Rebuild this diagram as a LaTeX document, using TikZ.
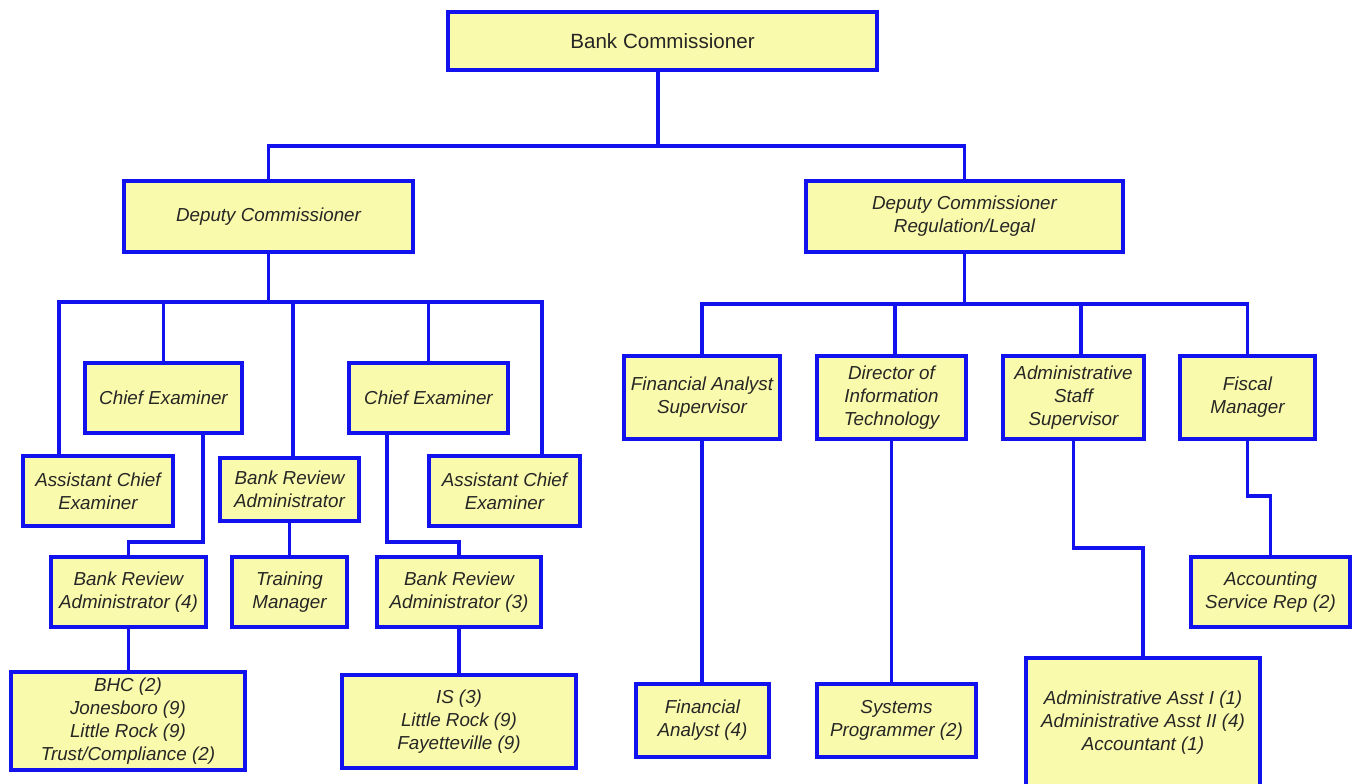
\documentclass[tikz,border=0pt]{standalone}
\usepackage{fontspec}
\setmainfont{Liberation Sans}
\definecolor{lineblue}{RGB}{18,18,238}
\definecolor{boxfill}{RGB}{250,250,172}
\tikzset{
  box/.style={draw=lineblue, line width=2pt, fill=boxfill, inner sep=0pt, outer sep=0pt, align=center,
    font=\fontsize{9.4}{11.5}\selectfont\itshape, text=black!85},
  conn/.style={draw=lineblue, line width=1.9pt, line join=miter, line cap=butt}
}
\newcommand{\obox}[7][]{%
  \node[box,#1,minimum width={(#5-#3-4)*0.5pt},minimum height={(#6-#4-4)*0.5pt}]
    (#2) at ({(#3+#5)/2},{(#4+#6)/2}) {#7};}
\begin{document}
\begin{tikzpicture}[x=0.5pt,y=-0.5pt]
\useasboundingbox[fill=white] (0,0) rectangle (1354,783);
% boxes
\obox[font=\fontsize{10.3}{12}\selectfont]{bc}{446}{10}{879}{72}{Bank Commissioner}
\obox{dc}{122}{179}{415}{254}{Deputy Commissioner}
\obox{dcr}{804}{179}{1125}{254}{Deputy Commissioner\\Regulation/Legal}
\obox{ce1}{83}{361}{244}{435}{Chief Examiner}
\obox{ce2}{347}{361}{510}{435}{Chief Examiner}
\obox{ace1}{21}{454}{175}{528}{Assistant Chief\\Examiner}
\obox{bram}{218}{456}{361}{523}{Bank Review\\Administrator}
\obox{ace2}{427}{454}{582}{528}{Assistant Chief\\Examiner}
\obox{bra4}{49}{555}{208}{629}{Bank Review\\Administrator (4)}
\obox{tm}{230}{555}{349}{629}{Training\\Manager}
\obox{bra3}{375}{555}{543}{629}{Bank Review\\Administrator (3)}
\obox{bhc}{9}{670}{247}{772}{BHC (2)\\Jonesboro (9)\\Little Rock (9)\\Trust/Compliance (2)}
\obox{is}{340}{673}{578}{770}{IS (3)\\Little Rock (9)\\Fayetteville (9)}
\obox{fas}{622}{354}{782}{441}{Financial Analyst\\Supervisor}
\obox{dit}{815}{354}{968}{441}{Director of\\Information\\Technology}
\obox{ass}{1001}{354}{1146}{441}{Administrative\\Staff\\Supervisor}
\obox{fm}{1178}{354}{1317}{441}{Fiscal\\Manager}
\obox{fa}{634}{682}{771}{759}{Financial\\Analyst (4)}
\obox{sp}{815}{682}{978}{759}{Systems\\Programmer (2)}
\obox{adm}{1024}{656}{1262}{790}{Administrative Asst I (1)\\Administrative Asst II (4)\\Accountant (1)}
\obox{asr}{1189}{555}{1352}{629}{Accounting\\Service Rep (2)}
% connectors: top level
\draw[conn] ([xshift=-2.25pt]bc.south) -- ++(0,76);
\draw[conn] (dc.north) -- ++(0,-35) -| (dcr.north);
% left branch
\draw[conn] (dc.south) -- ++(0,50);
\draw[conn] ([xshift=-19.5pt]ace1.north) -- ++(0,-154) -| ([xshift=18.75pt]ace2.north);
\draw[conn] (ce1.north) -- ++(0,-61);
\draw[conn] ([xshift=1.75pt]bram.north) -- ++(0,-156);
\draw[conn] (ce2.north) -- ++(0,-61);
\draw[conn] ([xshift=19.75pt]ce1.south) -- ++(0,109) -| (bra4.north);
\draw[conn] ([xshift=-20.75pt]ce2.south) -- ++(0,109) -| (bra3.north);
\draw[conn] (bram.south) -- (tm.north);
\draw[conn] (bra4.south) -- (bra4.south |- bhc.north);
\draw[conn] (bra3.south) -- (is.north);
% right branch
\draw[conn] (dcr.south) -- ++(0,52);
\draw[conn] (fas.north) -- ++(0,-52) -| (fm.north);
\draw[conn] ([xshift=1.75pt]dit.north) -- ++(0,-52);
\draw[conn] ([xshift=3.75pt]ass.north) -- ++(0,-52);
\draw[conn] (fas.south) -- (fas.south |- fa.north);
\draw[conn] (dit.south) -- (dit.south |- sp.north);
\draw[conn] (ass.south) -- ++(0,109) -| (adm.north);
\draw[conn] (fm.south) -- ++(0,57) -| (asr.north);
\end{tikzpicture}
\end{document}
